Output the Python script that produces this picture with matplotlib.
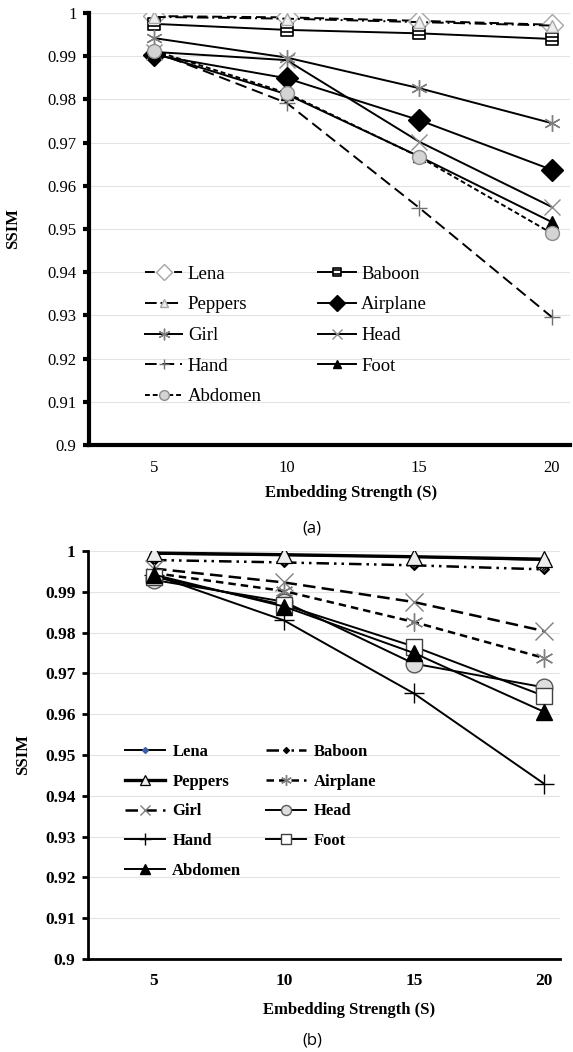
import matplotlib
matplotlib.use("Agg")
import matplotlib.pyplot as plt
from matplotlib.path import Path

# embedding strengths on the x axis
strength = [5, 10, 15, 20]
yticks = [0.9, 0.91, 0.92, 0.93, 0.94, 0.95, 0.96, 0.97, 0.98, 0.99, 1.0]
ytick_labels = ["0.9", "0.91", "0.92", "0.93", "0.94", "0.95",
                "0.96", "0.97", "0.98", "0.99", "1"]
names = ["Lena", "Baboon", "Peppers", "Airplane", "Girl",
         "Head", "Hand", "Foot", "Abdomen"]

# SSIM, scheme (a)
lena_a = [0.9993, 0.9990, 0.9982, 0.9973]
baboon_a = [0.9975, 0.9961, 0.9953, 0.9940]
peppers_a = [0.9991, 0.9987, 0.9979, 0.9971]
airplane_a = [0.9903, 0.9849, 0.9752, 0.9637]
girl_a = [0.9942, 0.9897, 0.9826, 0.9745]
head_a = [0.9910, 0.9891, 0.9702, 0.9551]
hand_a = [0.9911, 0.9792, 0.9549, 0.9296]
foot_a = [0.9907, 0.9812, 0.9668, 0.9516]
abdomen_a = [0.9913, 0.9815, 0.9667, 0.9490]

# SSIM, scheme (b)
lena_b = [0.9993, 0.9990, 0.9986, 0.9978]
baboon_b = [0.9978, 0.9972, 0.9965, 0.9955]
peppers_b = [0.9995, 0.9991, 0.9986, 0.9980]
airplane_b = [0.9946, 0.9902, 0.9826, 0.9738]
girl_b = [0.9957, 0.9923, 0.9875, 0.9804]
head_b = [0.9929, 0.9876, 0.9724, 0.9666]
hand_b = [0.9941, 0.9830, 0.9651, 0.9430]
foot_b = [0.9937, 0.9868, 0.9766, 0.9645]
abdomen_b = [0.9942, 0.9864, 0.9750, 0.9606]

SERIF = "Liberation Serif"
plt.rcParams["font.family"] = [SERIF, "DejaVu Serif"]


# square with two horizontal bars inside
def stripedSquare():
    verts = [(-1, -1), (1, -1), (1, 1), (-1, 1), (-1, -1),
             (-1, 0.35), (1, 0.35), (-1, -0.35), (1, -0.35)]
    codes = [Path.MOVETO, Path.LINETO, Path.LINETO, Path.LINETO, Path.CLOSEPOLY,
             Path.MOVETO, Path.LINETO, Path.MOVETO, Path.LINETO]
    return Path(verts, codes)


# diamond with diagonal hatch lines
def hatchedDiamond():
    verts = [(-1, 0), (0, -1), (1, 0), (0, 1), (-1, 0)]
    codes = [Path.MOVETO, Path.LINETO, Path.LINETO, Path.LINETO, Path.CLOSEPOLY]
    for t in (0.3, 0.55, 0.8):
        verts += [(-1 + t, -t), (t, 1 - t)]
        codes += [Path.MOVETO, Path.LINETO]
    return Path(verts, codes)


def styleAxes(ax, xlim, spineWidth, bold, tickSize, padX):
    ax.set_ylim(0.9, 1.0)
    ax.set_xlim(*xlim)
    ax.set_xticks(strength)
    ax.set_xticklabels([str(s) for s in strength])
    ax.set_yticks(yticks)
    ax.set_yticklabels(ytick_labels)
    ax.grid(axis="y", color="#e3e3e3", linewidth=0.8)
    ax.set_axisbelow(True)
    for side in ("top", "right"):
        ax.spines[side].set_visible(False)
    for side in ("left", "bottom"):
        ax.spines[side].set_linewidth(spineWidth)
    weight = "bold" if bold else "normal"
    ax.tick_params(axis="y", direction="out", length=4, width=spineWidth,
                   pad=5, labelsize=tickSize)
    ax.tick_params(axis="x", length=0, pad=padX, labelsize=tickSize)
    for lab in ax.get_xticklabels() + ax.get_yticklabels():
        lab.set_fontfamily(SERIF)
        lab.set_fontweight(weight)


def drawLegend(ax, handles, anchor, size, bold, hl, tp, cs, ls, ms):
    # rows read Lena/Baboon, Peppers/Airplane, ... so fill columns in that order
    order = [0, 2, 4, 6, 8, 1, 3, 5, 7]
    leg = ax.legend([handles[i] for i in order], [names[i] for i in order],
                    ncol=2, loc="upper left", bbox_to_anchor=anchor,
                    frameon=False, borderpad=0, borderaxespad=0,
                    handlelength=hl, handletextpad=tp, columnspacing=cs,
                    labelspacing=ls, numpoints=1, markerscale=ms,
                    prop={"family": SERIF, "size": size,
                          "weight": "bold" if bold else "normal"})
    return leg


fig = plt.figure(figsize=(5.73, 10.52), dpi=100)

# ---------------- chart (a) ----------------
axA = fig.add_axes([0.1553, 0.5770, 0.8394, 0.4106])
lw = 1.4
hA = []
hA.append(axA.plot(strength, lena_a, color="black", lw=lw, dashes=(5, 2.5),
                   marker="D", ms=11, mfc="white", mec="#a6a6a6", mew=1.0)[0])
hA.append(axA.plot(strength, baboon_a, color="black", lw=lw,
                   marker=stripedSquare(), ms=9, mfc="white", mec="black", mew=1.2)[0])
hA.append(axA.plot(strength, peppers_a, color="black", lw=lw, dashes=(6, 2, 1, 2),
                   marker="^", ms=8, mfc="#eeeeee", mec="#a6a6a6", mew=1.0)[0])
hA.append(axA.plot(strength, airplane_a, color="black", lw=lw,
                   marker="D", ms=11, mfc="black", mec="black")[0])
hA.append(axA.plot(strength, girl_a, color="black", lw=lw,
                   marker=(6, 2, 0), ms=12, mec="#7f7f7f", mew=1.0)[0])
hA.append(axA.plot(strength, head_a, color="black", lw=lw,
                   marker="x", ms=11, mec="#8c8c8c", mew=1.0)[0])
hA.append(axA.plot(strength, hand_a, color="black", lw=lw, dashes=(6, 3),
                   marker="+", ms=11, mec="#6f6f6f", mew=1.0)[0])
hA.append(axA.plot(strength, foot_a, color="black", lw=lw,
                   marker="^", ms=8, mfc="black", mec="black")[0])
hA.append(axA.plot(strength, abdomen_a, color="black", lw=lw, dashes=(2.5, 1.5),
                   marker="o", ms=10, mfc="#d4d4d4", mec="#8c8c8c", mew=1.0)[0])

styleAxes(axA, (2.55, 20.68), 3.0, False, 12, 11)
axA.set_xlabel("Embedding Strength (S)", family=SERIF, weight="bold", size=12)
axA.xaxis.set_label_coords(0.545, -0.111)
axA.xaxis.label.set_va("center")
axA.set_ylabel("SSIM", family=SERIF, weight="bold", size=12)
axA.yaxis.set_label_coords(-0.158, 0.5)
axA.yaxis.label.set_va("center")
drawLegend(axA, hA, (0.116, 0.415), 13.5, False, 2.0, 0.3, 3.0, 0.72, 0.7)

# ---------------- chart (b) ----------------
axB = fig.add_axes([0.1536, 0.0884, 0.8237, 0.3878])
hB = []
hB.append(axB.plot(strength, lena_b, color="black", lw=lw,
                   marker="D", ms=5, mfc="#3a5fa8", mec="#3a5fa8")[0])
hB.append(axB.plot(strength, baboon_b, color="black", lw=1.8, dashes=(5, 2, 1, 2, 1, 2),
                   marker=hatchedDiamond(), ms=7, mfc="white", mec="black", mew=1.0)[0])
hB.append(axB.plot(strength, peppers_b, color="black", lw=2.4,
                   marker="^", ms=11, mfc="#ededed", mec="black", mew=0.9)[0])
hB.append(axB.plot(strength, airplane_b, color="black", lw=1.8, dashes=(3, 2),
                   marker=(6, 2, 0), ms=13, mec="#7f7f7f", mew=1.0)[0])
hB.append(axB.plot(strength, girl_b, color="black", lw=1.8, dashes=(5, 2.5),
                   marker="x", ms=13, mec="#7f7f7f", mew=1.0)[0])
hB.append(axB.plot(strength, head_b, color="black", lw=lw,
                   marker="o", ms=12, mfc="#dedede", mec="#595959", mew=1.0)[0])
hB.append(axB.plot(strength, hand_b, color="black", lw=lw,
                   marker="+", ms=14, mec="black", mew=1.0)[0])
hB.append(axB.plot(strength, foot_b, color="black", lw=lw,
                   marker="s", ms=11, mfc="white", mec="#404040", mew=1.0)[0])
hB.append(axB.plot(strength, abdomen_b, color="black", lw=lw,
                   marker="^", ms=11, mfc="black", mec="black")[0])

styleAxes(axB, (2.46, 20.62), 2.0, True, 12.5, 10)
axB.set_xlabel("Embedding Strength (S)", family=SERIF, weight="bold", size=12)
axB.xaxis.set_label_coords(0.553, -0.125)
axB.xaxis.label.set_va("center")
axB.set_ylabel("SSIM", family=SERIF, weight="bold", size=12)
axB.yaxis.set_label_coords(-0.138, 0.5)
axB.yaxis.label.set_va("center")
drawLegend(axB, hB, (0.078, 0.527), 12, True, 2.4, 0.45, 1.5, 0.82, 0.6)

# panel captions
fig.text(0.545, 0.498, "(a)", family="Open Sans", size=12, ha="center", va="center")
fig.text(0.545, 0.0114, "(b)", family="Open Sans", size=12, ha="center", va="center")

fig.savefig("out.png", dpi=100)
